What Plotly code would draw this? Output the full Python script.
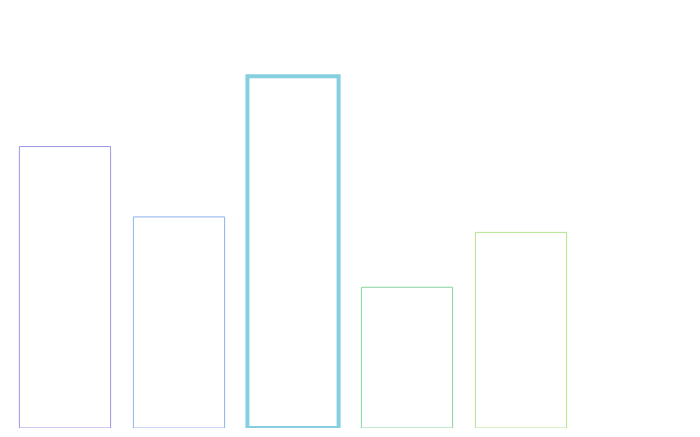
"""Outlined bar chart with one highlighted category, no axes or labels."""

import plotly.graph_objects as go

categories = ["A", "B", "C", "D", "E"]
values = [400, 300, 500, 200, 278]
outline_colors = ["#9a98e6", "#8fb1f0", "#86cfe0", "#86d4a0", "#b4e48e"]
outline_widths = [1, 1, 4, 1, 1]


def build_chart() -> go.Figure:
    fig = go.Figure(
        go.Bar(
            x=categories,
            y=values,
            marker=dict(
                color="rgba(255,255,255,0)",
                line=dict(color=outline_colors, width=outline_widths),
            ),
            hoverinfo="skip",
        )
    )
    fig.update_layout(
        width=700,
        height=437,
        margin=dict(l=0, r=16, t=33, b=17),
        paper_bgcolor="white",
        plot_bgcolor="white",
        bargap=0.2,
        showlegend=False,
    )
    fig.update_xaxes(
        visible=False,
        type="category",
        range=[-0.5, 5.5],
    )
    fig.update_yaxes(visible=False, range=[0, 550])
    return fig


fig = build_chart()
fig.write_html("out.html")
